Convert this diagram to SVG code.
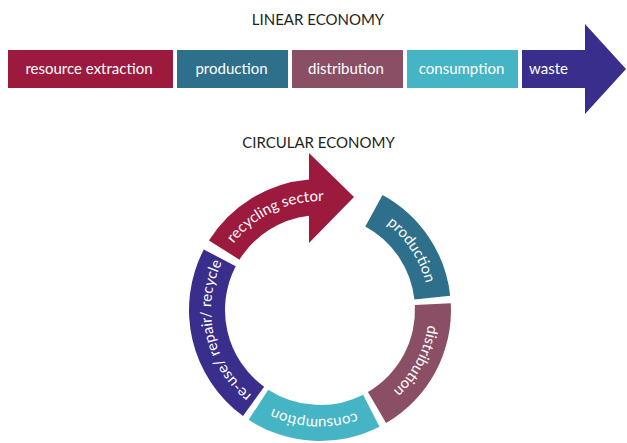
<svg xmlns="http://www.w3.org/2000/svg" xmlns:xlink="http://www.w3.org/1999/xlink" width="627" height="443" viewBox="0 0 627 443">
<style>
.t{font-family:Lato,"Liberation Sans",sans-serif;font-size:15px;fill:#ffffff}
.h{font-family:Lato,"Liberation Sans",sans-serif;font-size:15px;fill:#231f20;text-anchor:middle}
.m{text-anchor:middle}
.red{fill:#9c1a3e}.teal{fill:#2e6f8b}.mauve{fill:#8a4f65}.cyan{fill:#45b5c5}.navy{fill:#3a2e8c}
</style>
<defs>
<path id="ring" d="M 429 310 A 109 109 0 0 1 211 310 A 109 109 0 0 1 429 310"/>
</defs>
<rect width="627" height="443" fill="#ffffff"/>
<text class="h" x="318" y="25">LINEAR ECONOMY</text>
<g id="lin-resource"><rect class="red" x="8" y="50" width="165" height="38"/><text class="t m" x="89" y="74">resource extraction</text></g>
<g id="lin-production"><rect class="teal" x="177" y="50" width="111" height="38"/><text class="t m" x="231.5" y="74">production</text></g>
<g id="lin-distribution"><rect class="mauve" x="292" y="50" width="111" height="38"/><text class="t m" x="346" y="74">distribution</text></g>
<g id="lin-consumption"><rect class="cyan" x="407" y="50" width="111" height="38"/><text class="t m" x="461.5" y="74">consumption</text></g>
<g id="lin-waste"><path class="navy" d="M 522 50 L 585 50 L 585 24 L 626 69 L 585 114 L 585 88 L 522 88 Z"/><text class="t" x="529" y="74">waste</text></g>
<text class="h" x="318.5" y="148">CIRCULAR ECONOMY</text>
<g id="circ-recycling"><path class="red" d="M 208.91 240.58 A 131 131 0 0 1 309 179.46 L 309 153 L 354 197 L 309 243 L 309 215.64 A 95 95 0 0 0 239.44 259.66 Z"/><text class="t m"><textPath xlink:href="#ring" startOffset="465">recycling sector</textPath></text></g>
<g id="circ-production"><path class="teal" d="M 382.51 194.88 A 131 131 0 0 1 450.21 295.63 L 414.43 299.58 A 95 95 0 0 0 365.33 226.51 Z"/><text class="t m"><textPath xlink:href="#ring" startOffset="621">production</textPath></text></g>
<g id="circ-distribution"><path class="mauve" d="M 450.82 303.14 A 131 131 0 0 1 386.09 423.11 L 367.93 392.02 A 95 95 0 0 0 414.87 305.03 Z"/><text class="t m"><textPath xlink:href="#ring" startOffset="53">distribution</textPath></text></g>
<g id="circ-consumption"><path class="cyan" d="M 379.47 426.72 A 131 131 0 0 1 248.65 419.87 L 268.26 389.67 A 95 95 0 0 0 363.13 394.65 Z"/><text class="t m"><textPath xlink:href="#ring" startOffset="177">consumption</textPath></text></g>
<g id="circ-reuse"><path class="navy" d="M 243.0 415.98 A 131 131 0 0 1 203.80 249.51 L 235.73 266.13 A 95 95 0 0 0 264.16 386.86 Z"/><text class="t m"><textPath xlink:href="#ring" startOffset="318">re-use/ repair/ recycle</textPath></text></g>
<g id="connectors"></g>
</svg>
